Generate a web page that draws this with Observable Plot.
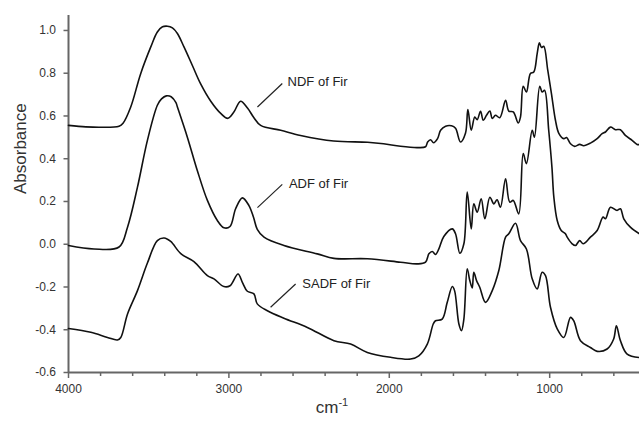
<!DOCTYPE html>
<html><head><meta charset="utf-8">
<script src="https://cdn.jsdelivr.net/npm/d3@7"></script>
<script src="https://cdn.jsdelivr.net/npm/@observablehq/plot@0.6"></script>
<style>body{margin:0;background:#fff;} svg{display:block;}</style>
</head><body><div id="chart"></div>
<script>
// [wavenumber cm-1, absorbance]
const ndf = [[4000,0.556],[3892,0.549],[3799,0.547],[3685,0.552],[3660,0.566],[3612,0.642],[3550,0.798],[3487,0.923],[3446,0.993],[3414,1.017],[3383,1.020],[3352,1.012],[3321,0.986],[3280,0.923],[3227,0.835],[3176,0.750],[3113,0.669],[3051,0.612],[3007,0.589],[2970,0.617],[2927,0.669],[2883,0.636],[2846,0.594],[2802,0.556],[2677,0.533],[2553,0.509],[2347,0.483],[2135,0.477],[2036,0.470],[1930,0.458],[1824,0.452],[1774,0.456],[1761,0.478],[1743,0.489],[1724,0.475],[1699,0.494],[1680,0.533],[1649,0.552],[1612,0.554],[1587,0.542],[1556,0.478],[1525,0.519],[1510,0.630],[1489,0.533],[1467,0.595],[1452,0.583],[1431,0.622],[1414,0.580],[1394,0.603],[1373,0.623],[1358,0.588],[1338,0.603],[1311,0.592],[1275,0.673],[1255,0.623],[1227,0.619],[1196,0.567],[1182,0.595],[1165,0.739],[1145,0.712],[1120,0.799],[1099,0.806],[1078,0.892],[1064,0.942],[1051,0.920],[1037,0.926],[1012,0.814],[989,0.705],[964,0.580],[943,0.519],[912,0.494],[895,0.499],[870,0.470],[844,0.458],[813,0.467],[788,0.461],[746,0.473],[704,0.494],[673,0.517],[652,0.525],[621,0.548],[590,0.536],[559,0.536],[528,0.509],[486,0.486],[455,0.467],[440,0.466]];
const adf = [[4000,-0.006],[3841,-0.022],[3685,-0.013],[3632,0.080],[3570,0.267],[3508,0.486],[3446,0.650],[3420,0.680],[3390,0.694],[3360,0.690],[3330,0.662],[3321,0.642],[3259,0.501],[3197,0.345],[3134,0.205],[3072,0.111],[3031,0.077],[2993,0.083],[2958,0.166],[2916,0.217],[2875,0.181],[2846,0.125],[2823,0.070],[2781,0.033],[2657,-0.006],[2449,-0.045],[2345,-0.066],[2137,-0.068],[1930,-0.084],[1826,-0.092],[1774,-0.084],[1753,-0.045],[1732,-0.034],[1712,-0.048],[1691,-0.022],[1660,0.036],[1607,0.072],[1587,0.049],[1560,-0.042],[1535,0.002],[1514,0.244],[1489,0.072],[1473,0.189],[1452,0.150],[1427,0.213],[1404,0.119],[1373,0.220],[1348,0.189],[1328,0.208],[1307,0.173],[1275,0.306],[1249,0.197],[1227,0.205],[1193,0.142],[1165,0.424],[1145,0.377],[1109,0.533],[1095,0.501],[1062,0.739],[1047,0.712],[1032,0.720],[1006,0.533],[986,0.361],[974,0.220],[953,0.111],[928,0.064],[902,0.049],[891,0.033],[860,0.002],[839,-0.006],[813,0.017],[791,0.002],[746,0.033],[704,0.064],[667,0.127],[652,0.119],[621,0.173],[580,0.158],[559,0.166],[538,0.119],[497,0.080],[440,0.049]];
const sadf = [[4000,-0.394],[3861,-0.412],[3757,-0.436],[3695,-0.448],[3674,-0.436],[3632,-0.326],[3570,-0.217],[3508,-0.088],[3446,0.017],[3404,0.029],[3363,0.013],[3300,-0.044],[3218,-0.081],[3134,-0.147],[3093,-0.162],[3031,-0.198],[2993,-0.194],[2943,-0.139],[2916,-0.178],[2885,-0.220],[2844,-0.232],[2823,-0.279],[2760,-0.311],[2657,-0.346],[2511,-0.389],[2345,-0.451],[2241,-0.467],[2137,-0.506],[1992,-0.529],[1867,-0.537],[1816,-0.522],[1763,-0.467],[1726,-0.373],[1712,-0.358],[1670,-0.350],[1639,-0.273],[1607,-0.198],[1593,-0.217],[1566,-0.373],[1550,-0.404],[1535,-0.350],[1514,-0.115],[1498,-0.170],[1483,-0.204],[1473,-0.131],[1456,-0.170],[1436,-0.201],[1400,-0.272],[1358,-0.217],[1317,-0.123],[1275,0.033],[1255,0.049],[1213,0.098],[1182,0.017],[1145,-0.022],[1109,-0.162],[1078,-0.209],[1047,-0.131],[1026,-0.147],[995,-0.295],[953,-0.396],[912,-0.436],[870,-0.342],[850,-0.358],[808,-0.451],[746,-0.483],[704,-0.501],[642,-0.490],[601,-0.443],[584,-0.381],[559,-0.451],[517,-0.514],[440,-0.530]];

const annLabels = ["NDF of Fir", "ADF of Fir", "SADF of Fir"];
const annTextWn = [2634, 2626, 2542];
const annTextAbs = [0.759, 0.283, -0.186];
const annLineFrom = [[2667, 0.752], [2667, 0.280], [2584, -0.186]];
const annLineTo = [[2822, 0.642], [2822, 0.171], [2740, -0.295]];

const yTicks = [-0.6, -0.4, -0.2, 0, 0.2, 0.4, 0.6, 0.8, 1.0];
const xMajor = [4000, 3000, 2000, 1000];
const xMinor = [3800, 3600, 3400, 3200, 2800, 2600, 2400, 2200, 1800, 1600, 1400, 1200, 800, 600];

const toPts = (arr, name) => arr.map(([wn, abs]) => ({wn, abs, name}));
const annos = annLabels.map((label, i) => ({
  label, tx: annTextWn[i], ty: annTextAbs[i],
  x1: annLineFrom[i][0], y1: annLineFrom[i][1], x2: annLineTo[i][0], y2: annLineTo[i][1]
}));

const font = "'Liberation Sans', Arial, Helvetica, sans-serif";
const plot = Plot.plot({
  width: 639, height: 422,
  marginLeft: 68, marginRight: 0, marginTop: 15, marginBottom: 50,
  style: {fontFamily: font, fontSize: "12px", color: "#333", background: "white"},
  x: {domain: [4000, 440]},
  y: {domain: [-0.6, 1.07]},
  marks: [
    Plot.axisY(yTicks, {tickSize: 4.5, tickPadding: 8, tickFormat: d => d.toFixed(1), label: null, stroke: "#666", strokeWidth: 1.5, fontSize: 12, fill: "#333"}),
    Plot.axisX(xMinor, {tickSize: 4, text: null, label: null, stroke: "#666", strokeWidth: 1.5}),
    Plot.axisX(xMajor, {tickSize: 6, tickPadding: 6, tickFormat: d => String(d), label: null, stroke: "#666", strokeWidth: 1.5, fontSize: 12, fill: "#333"}),
    Plot.ruleX([4000], {stroke: "#666", strokeWidth: 2}),
    Plot.ruleY([-0.6], {stroke: "#666", strokeWidth: 2}),
    Plot.line(toPts(ndf, "NDF"), {x: "wn", y: "abs", curve: "catmull-rom", stroke: "#111", strokeWidth: 1.6}),
    Plot.line(toPts(adf, "ADF"), {x: "wn", y: "abs", curve: "catmull-rom", stroke: "#111", strokeWidth: 1.6}),
    Plot.line(toPts(sadf, "SADF"), {x: "wn", y: "abs", curve: "catmull-rom", stroke: "#111", strokeWidth: 1.6}),
    Plot.link(annos, {x1: "x1", y1: "y1", x2: "x2", y2: "y2", stroke: "#222", strokeWidth: 1.2}),
    Plot.text(annos, {x: "tx", y: "ty", text: "label", textAnchor: "start", fontSize: 13, fill: "#222"}),
    Plot.text(["Absorbance"], {text: d => d, frameAnchor: "left", rotate: -90, dx: -48, fontSize: 17, fill: "#333"}),
    Plot.text(["cm"], {text: d => d, frameAnchor: "bottom", dy: 40, dx: -22, fontSize: 17, fill: "#333", className: "xlab"})
  ]
});
document.getElementById("chart").append(plot);
// superscript -1 on the x label
const t = d3.select(plot).select("g.xlab text");
t.append("tspan").attr("dy", "-0.55em").attr("font-size", "11px").text("-1");
</script>
</body></html>
